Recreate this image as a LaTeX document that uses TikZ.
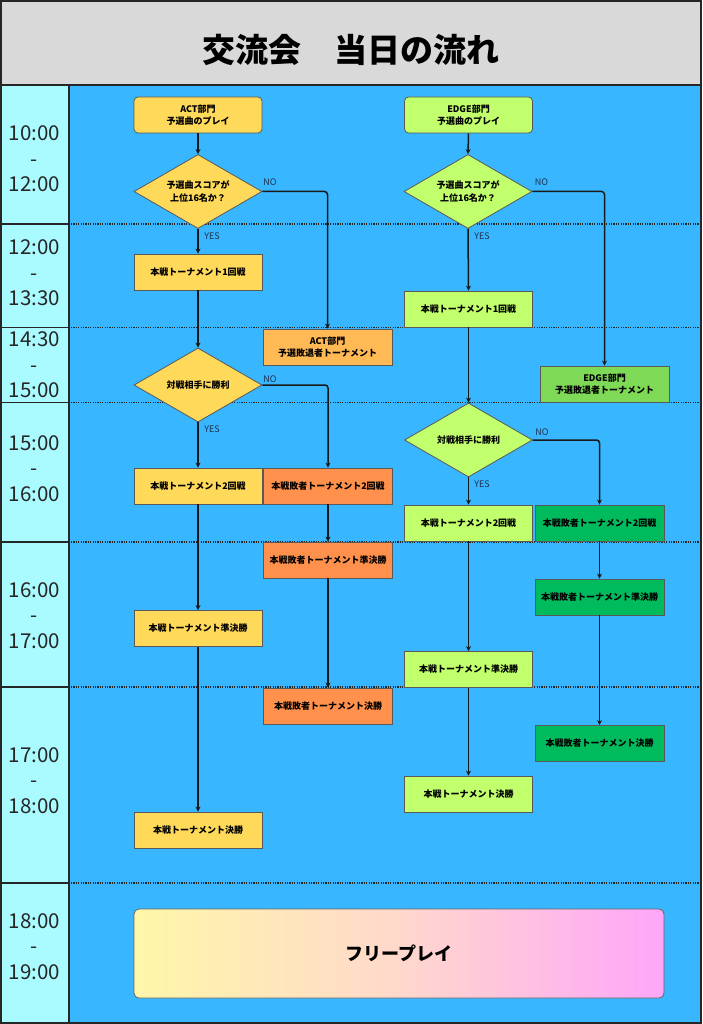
\documentclass[tikz,border=0pt]{standalone}
\usepackage{fontspec}
\setmainfont{Noto Sans CJK JP}
\usetikzlibrary{shapes.geometric,arrows.meta}
\definecolor{titlegray}{HTML}{D9D9D9}
\definecolor{timecyan}{HTML}{A9FBFF}
\definecolor{bgblue}{HTML}{38B6FF}
\definecolor{actyellow}{HTML}{FFDA5A}
\definecolor{actlose}{HTML}{FFBA55}
\definecolor{actorange}{HTML}{FF914D}
\definecolor{edgelight}{HTML}{C1FF6C}
\definecolor{edgelose}{HTML}{7ED957}
\definecolor{edgedark}{HTML}{00BB5E}
\definecolor{lblcol}{HTML}{1E3250}
\definecolor{gradL}{HTML}{FFF7A8}
\definecolor{gradM}{HTML}{FFD8CC}
\definecolor{gradR}{HTML}{FFA6F9}
\tikzset{
  box/.style={draw=black!65, line width=0.8pt, minimum width=128pt, minimum height=36pt,
    inner sep=0pt, align=center, font=\bfseries\fontsize{9}{12.5}\selectfont},
  dia/.style={diamond, aspect=2, draw=black!65, line width=0.8pt, minimum width=128pt, minimum height=74pt,
    inner sep=0pt, align=center, font=\bfseries\fontsize{9}{13.3}\selectfont},
  conn/.style={-{Stealth[length=5pt,width=5pt]}, line width=1.5pt, black!90, rounded corners=3pt},
  yn/.style={font=\fontsize{9}{10}\selectfont, text=lblcol, inner sep=0pt},
  tlabel/.style={align=center, font=\fontsize{20.5}{25.5}\selectfont, text=black!85, inner sep=0pt},
  rowline/.style={line width=1.2pt, black!85},
  dotline/.style={line width=1.3pt, black!85, dash pattern=on 1.1pt off 1.3pt}
}
\begin{document}
\begin{tikzpicture}[x=1pt,y=-1pt]
\useasboundingbox (0,0) rectangle (702,1024);
% backgrounds
\fill[titlegray] (0,0) rectangle (702,85);
\fill[timecyan] (0,85) rectangle (69,1024);
\fill[bgblue] (69,85) rectangle (702,1024);
\node[font=\bfseries\fontsize{33}{40}\selectfont] (title) at (351,50) {交流会　当日の流れ};
% row separators
\foreach \yy in {224,327.5,402.5,542,687,883}{
  \draw[rowline] (0,\yy) -- (69,\yy);
  \draw[dotline] (71,\yy) -- (702,\yy);
}
\draw[line width=1.6pt, black!85] (0,85) -- (702,85);
\draw[rowline] (69,85) -- (69,1024);
\draw[line width=2pt, black!85] (1,1) rectangle (701,1023);
% time labels
\node[tlabel] (t1) at (34.5,159) {10:00\\-\\12:00};
\node[tlabel] (t2) at (34.5,273) {12:00\\-\\13:30};
\node[tlabel] (t3) at (34.5,365) {14:30\\-\\15:00};
\node[tlabel] (t4) at (34.5,468.5) {15:00\\-\\16:00};
\node[tlabel] (t5) at (34.5,615.5) {16:00\\-\\17:00};
\node[tlabel] (t6) at (34.5,780.5) {17:00\\-\\18:00};
\node[tlabel] (t7) at (34.5,946.5) {18:00\\-\\19:00};
% ACT column
\node[box, fill=actyellow, rounded corners=4pt] (A1) at (198,115) {ACT部門\\予選曲のプレイ};
\node[dia, fill=actyellow] (D1) at (198,191.5) {予選曲スコアが\\上位16名か？};
\node[box, fill=actyellow] (B1) at (198,272) {本戦トーナメント1回戦};
\node[box, fill=actlose, minimum width=129pt] (AL) at (327.5,347) {ACT部門\\予選敗退者トーナメント};
\node[dia, fill=actyellow] (D2) at (198,385) {対戦相手に勝利};
\node[box, fill=actyellow] (B2) at (198,486) {本戦トーナメント2回戦};
\node[box, fill=actorange, minimum width=129pt] (L2) at (328,486) {本戦敗者トーナメント2回戦};
\node[box, fill=actorange, minimum width=129pt] (L3) at (328,560) {本戦敗者トーナメント準決勝};
\node[box, fill=actyellow] (B3) at (198,628.5) {本戦トーナメント準決勝};
\node[box, fill=actorange, minimum width=129pt] (L4) at (328,706) {本戦敗者トーナメント決勝};
\node[box, fill=actyellow] (B4) at (198,830) {本戦トーナメント決勝};
% EDGE column
\node[box, fill=edgelight, rounded corners=4pt] (E1) at (468.5,115) {EDGE部門\\予選曲のプレイ};
\node[dia, fill=edgelight] (ED1) at (468,191.5) {予選曲スコアが\\上位16名か？};
\node[box, fill=edgelight] (EB1) at (468.5,309) {本戦トーナメント1回戦};
\node[box, fill=edgelose, minimum width=129pt] (EL) at (604.5,384) {EDGE部門\\予選敗退者トーナメント};
\node[dia, fill=edgelight] (ED2) at (468.5,440) {対戦相手に勝利};
\node[box, fill=edgelight] (EB2) at (468.5,523) {本戦トーナメント2回戦};
\node[box, fill=edgedark, minimum width=129pt] (EL2) at (599.5,523) {本戦敗者トーナメント2回戦};
\node[box, fill=edgedark, minimum width=129pt] (EL3) at (599.5,597) {本戦敗者トーナメント準決勝};
\node[box, fill=edgelight] (EB3) at (468.5,669.5) {本戦トーナメント準決勝};
\node[box, fill=edgedark, minimum width=129pt] (EL4) at (599.5,743.5) {本戦敗者トーナメント決勝};
\node[box, fill=edgelight] (EB4) at (468.5,794) {本戦トーナメント決勝};
% free play
\node[draw=black!60, line width=0.8pt, rounded corners=5pt, minimum width=530pt, minimum height=89pt,
  left color=gradL, right color=gradR, middle color=gradM, inner sep=0pt,
  font=\bfseries\fontsize{18}{20}\selectfont] (FP) at (399,953.5) {フリープレイ};
% ACT connectors
\draw[conn] (A1.south) -- (D1.north);
\draw[conn] (D1.south) -- (B1.north);
\draw[conn] (D1.east) -| (AL.north);
\draw[conn] (B1.south) -- (D2.north);
\draw[conn] (D2.south) -- (B2.north);
\draw[conn] (D2.east) -| (L2.north);
\draw[conn] (B2.south) -- (B3.north);
\draw[conn] (B3.south) -- (B4.north);
\draw[conn] (L2.south) -- (L3.north);
\draw[conn] (L3.south) -- (L4.north);
% EDGE connectors
\draw[conn] (E1.south) -- (ED1.north);
\draw[conn] (ED1.south) -- (EB1.north);
\draw[conn] (ED1.east) -| (EL.north);
\draw[conn] (EB1.south) -- (ED2.north);
\draw[conn] (ED2.south) -- (EB2.north);
\draw[conn] (ED2.east) -| (EL2.north);
\draw[conn] (EB2.south) -- (EB3.north);
\draw[conn] (EB3.south) -- (EB4.north);
\draw[conn] (EL2.south) -- (EL3.north);
\draw[conn] (EL3.south) -- (EL4.north);
% YES / NO labels
\node[yn] (y1) at (212,236) {YES};
\node[yn] (n1) at (270,182) {NO};
\node[yn] (y2) at (212,429) {YES};
\node[yn] (n2) at (270,379) {NO};
\node[yn] (y3) at (482,236) {YES};
\node[yn] (n3) at (541.5,182) {NO};
\node[yn] (y4) at (482,484) {YES};
\node[yn] (n4) at (542,432) {NO};
\end{tikzpicture}
\end{document}
